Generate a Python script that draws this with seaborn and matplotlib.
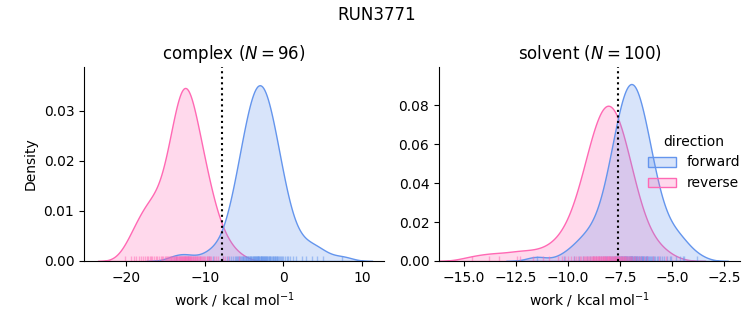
import matplotlib
matplotlib.use("Agg")
import matplotlib.pyplot as plt
import pandas as pd
import seaborn as sns

phases = ["complex", "solvent"]
directions = ["forward", "reverse"]

complex_forward = [
    -13.6, -12.1, -9.5, -8.9, -7.62, -7.18, -6.85, -6.63, -6.41, -6.19,
    -6.01, -5.86, -5.71, -5.59, -5.47, -5.37, -5.25,
    -5.16, -5.07, -4.98, -4.89, -4.8, -4.72, -4.63, -4.54, -4.45, -4.36,
    -4.28, -4.21, -4.14, -4.06, -3.99, -3.92,
    -3.84, -3.78, -3.72, -3.66, -3.6, -3.54, -3.48,
    -3.4, -3.34, -3.28, -3.22, -3.16, -3.1, -3.04,
    -2.96, -2.9, -2.84, -2.78, -2.72, -2.66, -2.6,
    -2.525, -2.46, -2.4, -2.34, -2.28, -2.22, -2.155,
    -2.085, -2.015, -1.944, -1.865, -1.794, -1.724,
    -1.636, -1.548, -1.46, -1.372, -1.284,
    -1.196, -1.108, -1.02, -0.932, -0.844,
    -0.747, -0.633, -0.527, -0.413,
    -0.29, -0.14, 0.01, 0.19, 0.41, 0.63, 0.85, 1.18, 1.66, 2.4, 2.9, 3.6, 4.3, 5.1, 7.5,
]
complex_reverse = [
    -20.1, -19.4, -19.0, -18.7, -18.4, -18.1, -17.9, -17.6, -17.4, -17.2, -17.0, -16.8, -16.7, -16.5,
    -16.2, -16.1, -15.85, -15.6, -15.4, -15.25, -15.1,
    -14.94, -14.81, -14.69, -14.56, -14.45, -14.35, -14.25, -14.15, -14.05,
    -13.96, -13.88, -13.8, -13.71, -13.63, -13.55,
    -13.46, -13.39, -13.32, -13.25, -13.18, -13.11, -13.04,
    -12.97, -12.91, -12.84, -12.78, -12.71, -12.65, -12.59, -12.53, -12.5,
    -12.47, -12.41, -12.35, -12.29, -12.22, -12.16, -12.09, -12.03,
    -11.96, -11.89, -11.82, -11.75, -11.68, -11.61, -11.54,
    -11.45, -11.37, -11.29, -11.2, -11.12, -11.04,
    -10.95, -10.85, -10.75, -10.65, -10.55,
    -10.44, -10.31, -10.19, -10.06, -9.9, -9.75, -9.7, -9.6, -9.4, -9.3, -9.15, -8.8, -8.6, -8.3,
    -7.7, -7.4, -7.1, -5.6,
]
solvent_forward = [
    -11.5, -10.2, -9.7, -9.45, -9.3, -9.1, -8.95, -8.8, -8.64, -8.52,
    -8.4, -8.32, -8.24, -8.16, -8.1, -8.04, -7.98,
    -7.92, -7.88, -7.84, -7.8, -7.76, -7.72,
    -7.69, -7.66, -7.63, -7.6, -7.56, -7.53, -7.5, -7.47,
    -7.44, -7.41, -7.39, -7.36, -7.33, -7.3, -7.27, -7.24, -7.21,
    -7.19, -7.16, -7.14, -7.12, -7.09, -7.06, -7.03, -7.0, -6.98, -6.97, -6.96,
    -6.94, -6.92, -6.9, -6.87, -6.84, -6.81, -6.78, -6.76, -6.74, -6.71,
    -6.69, -6.66, -6.63, -6.6, -6.57, -6.54, -6.51, -6.49, -6.46,
    -6.43, -6.4, -6.37, -6.34, -6.3, -6.27, -6.24, -6.21,
    -6.18, -6.14, -6.1, -6.06, -6.02, -5.98,
    -5.92, -5.86, -5.8, -5.74, -5.66, -5.58, -5.5, -5.38, -5.26, -5.1,
    -5.05, -4.8, -4.6, -4.49, -4.42, -3.78,
]
solvent_reverse = [
    -14.6, -13.78, -13.3, -12.47, -12.3, -11.7, -11.2, -10.9, -10.5, -10.3,
    -10.15, -9.98, -9.86, -9.72, -9.6, -9.51, -9.43, -9.35,
    -9.28, -9.23, -9.18, -9.13, -9.08,
    -9.02, -8.98, -8.94, -8.9, -8.86, -8.82,
    -8.79, -8.76, -8.73, -8.7, -8.66, -8.63, -8.6, -8.57,
    -8.54, -8.51, -8.49, -8.46, -8.43, -8.4, -8.37, -8.34, -8.31,
    -8.29, -8.26, -8.23, -8.2, -8.17, -8.14, -8.11, -8.09, -8.06,
    -8.04, -8.01, -7.99, -7.96, -7.93, -7.9, -7.87, -7.84, -7.81,
    -7.79, -7.76, -7.73, -7.7, -7.67, -7.64, -7.61, -7.59, -7.56,
    -7.53, -7.5, -7.47, -7.44, -7.4, -7.37, -7.34, -7.31,
    -7.28, -7.24, -7.2, -7.16, -7.12, -7.08,
    -7.02, -6.96, -6.9, -6.84, -6.76, -6.68, -6.6, -6.48, -6.36, -6.2,
    -5.9, -5.6, -5.3,
]
free_energy = {"complex": -7.8, "solvent": -7.6}
x_limits = {"complex": (-25.35, 12.8), "solvent": (-16.2, -1.73)}
y_limits = {"complex": (0, 0.0388), "solvent": (0, 0.0995)}
palette = {"forward": "cornflowerblue", "reverse": "hotpink"}

series = {
    ("complex", "forward"): complex_forward,
    ("complex", "reverse"): complex_reverse,
    ("solvent", "forward"): solvent_forward,
    ("solvent", "reverse"): solvent_reverse,
}
rows = []
for (phase, direction), vals in series.items():
    for v in vals:
        rows.append({"phase": phase, "direction": direction, "work": v})
df = pd.DataFrame(rows)
counts = {"complex": len(complex_forward), "solvent": len(solvent_forward)}
print({k: len(v) for k, v in series.items()})

g = sns.displot(
    df, x="work", hue="direction", col="phase", kind="kde", fill=True, rug=True,
    palette=palette, hue_order=directions, col_order=phases,
    rug_kws=dict(alpha=0.5),
    facet_kws=dict(sharex=False, sharey=False), height=3, aspect=1.1,
)
fig = g.figure
fig.set_size_inches(7.53, 3.25)
fig.set_dpi(100)

positions = {"complex": [84 / 753, 64 / 325, 300 / 753, 194 / 325],
             "solvent": [439 / 753, 64 / 325, 301 / 753, 194 / 325]}
for phase in phases:
    ax = g.axes_dict[phase]
    ax.set_position(positions[phase])
    ax.axvline(free_energy[phase], color="black", linestyle=":", linewidth=1.5)
    ax.set_xlim(*x_limits[phase])
    ax.set_ylim(*y_limits[phase])
    ax.set_title(f"{phase} ($N = {counts[phase]}$)", fontsize=12)
    ax.set_xlabel("work / kcal mol$^{-1}$")
g.axes_dict["complex"].set_ylabel("Density")
g.axes_dict["solvent"].set_ylabel("")

fig.suptitle("RUN3771", fontsize=12)

leg = g._legend
leg.set_loc("center right")
leg.set_bbox_to_anchor((1.0, 0.5), transform=fig.transFigure)

fig.savefig("out.png", dpi=100)
